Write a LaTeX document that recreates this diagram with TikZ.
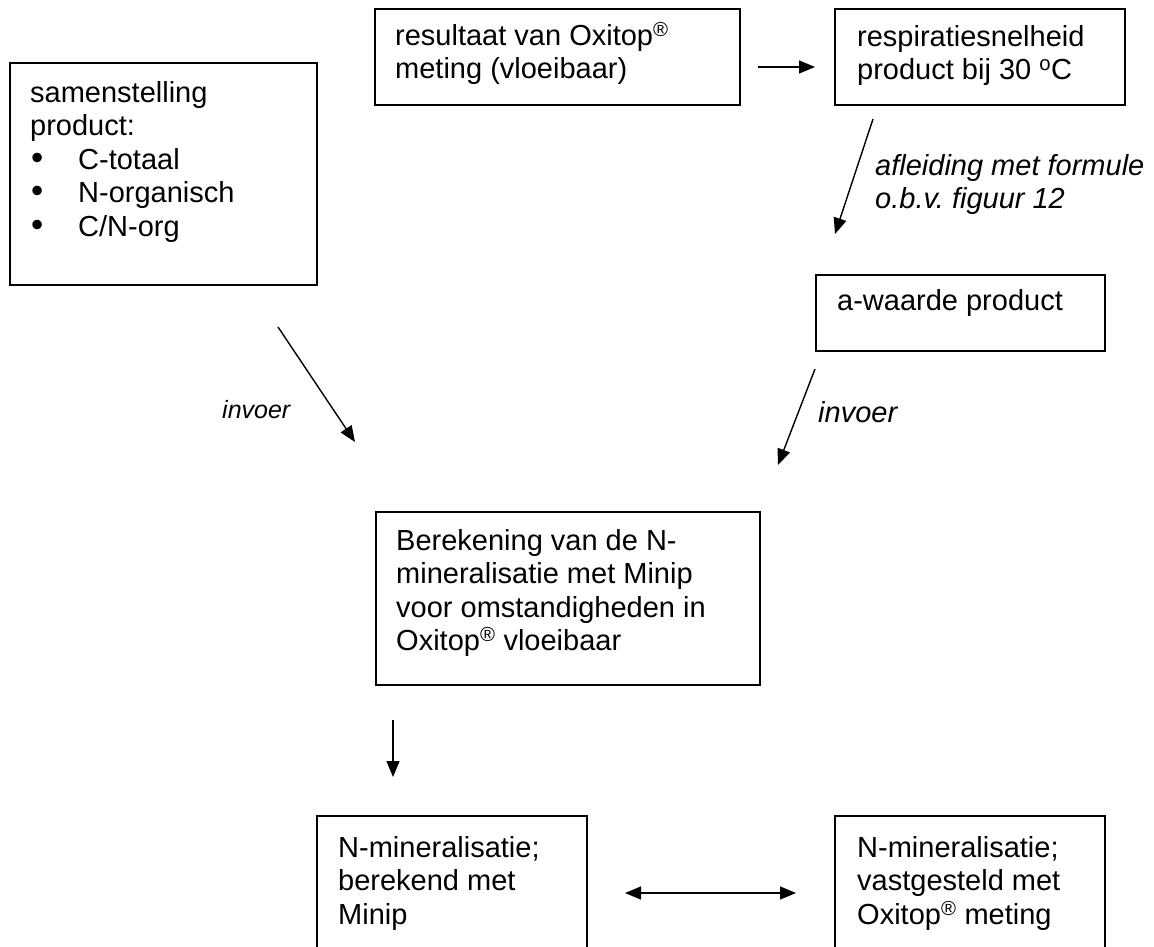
\documentclass[tikz,border=0pt]{standalone}
\usepackage{fontspec}
\setmainfont{Liberation Sans}
\usetikzlibrary{arrows.meta}
\newcommand{\fstrut}{\rule{0pt}{26pt}}
\newcommand{\reg}{\textsuperscript{\textregistered}}
\newcommand{\bul}{\makebox[48pt][l]{\hspace{1pt}\scalebox{1.2}{\textbullet}}}
\frenchspacing
\begin{document}
\begin{tikzpicture}[x=1pt,y=-1pt,
  box/.style={draw, line width=1.7pt, inner sep=0pt, anchor=north west},
  txt/.style={anchor=north west, inner sep=0pt, align=left, font=\fontsize{29}{33.5}\selectfont\frenchspacing},
  lbl/.style={anchor=base west, inner sep=0pt, font=\fontsize{29}{33.5}\selectfont\itshape},
  arr/.style={line width=1.4pt, -{Triangle[length=16pt,width=13pt]}},
  darr/.style={line width=1.4pt, {Triangle[length=16pt,width=13pt]}-{Triangle[length=16pt,width=13pt]}}]
\clip (0,0) rectangle (1154,947);
\fill[white] (0,0) rectangle (1154,947);

% boxes
\node[box, minimum width=307pt, minimum height=222pt] (b1) at (9,62) {};
\node[box, minimum width=365pt, minimum height=96pt] (b2) at (374,8) {};
\node[box, minimum width=290pt, minimum height=96pt] (b3) at (834,8) {};
\node[box, minimum width=289pt, minimum height=76pt] (b4) at (815,274) {};
\node[box, minimum width=384pt, minimum height=173pt] (b5) at (375,511) {};
\node[box, minimum width=270pt, minimum height=160pt] (b6) at (316,815) {};
\node[box, minimum width=270pt, minimum height=160pt] (b7) at (834,815) {};

% texts
\node[txt] (t1) at (30,76) {\fstrut samenstelling\\ product:\\
  \bul C-totaal\\
  \bul N-organisch\\
  \bul C/N-org};
\node[txt] (t2) at (395,19) {\fstrut resultaat van Oxitop\reg\\ meting (vloeibaar)};
\node[txt] (t3) at (857,20) {\fstrut respiratiesnelheid\\ product bij 30 \textsuperscript{o}C};
\node[txt] (t4) at (837,284) {\fstrut a-waarde product};
\node[txt] (t5) at (396,524) {\fstrut Berekening van de N-\\ mineralisatie met Minip\\ voor omstandigheden in\\ Oxitop\reg{} vloeibaar};
\node[txt] (t6) at (338,831) {\fstrut N-mineralisatie;\\ berekend met\\ Minip};
\node[txt] (t7) at (857,831) {\fstrut N-mineralisatie;\\ vastgesteld met\\ Oxitop\reg{} meting};

% labels
\node[txt, font=\fontsize{29}{33}\selectfont\itshape\frenchspacing] (l1) at (875,149) {\fstrut afleiding met formule\\ o.b.v. figuur 12};
\node[lbl, font=\fontsize{25}{29}\selectfont\itshape] (l2) at (222,418) {invoer};
\node[lbl] (l3) at (818,422) {invoer};

% arrow ends
\coordinate (a1s) at (758,67);  \coordinate (a1e) at (815,67);
\coordinate (a2s) at (873,119); \coordinate (a2e) at (835,234);
\coordinate (a3s) at (815,369); \coordinate (a3e) at (778,465);
\coordinate (a4s) at (278,327); \coordinate (a4e) at (355,442);
\coordinate (a5s) at (393,720); \coordinate (a5e) at (393,777);
\coordinate (a6s) at (625,893); \coordinate (a6e) at (796,893);

\draw[arr] (a1s) -- (a1e);
\draw[arr] (a2s) -- (a2e);
\draw[arr] (a3s) -- (a3e);
\draw[arr] (a4s) -- (a4e);
\draw[arr] (a5s) -- (a5e);
\draw[darr] (a6s) -- (a6e);
\end{tikzpicture}
\end{document}
